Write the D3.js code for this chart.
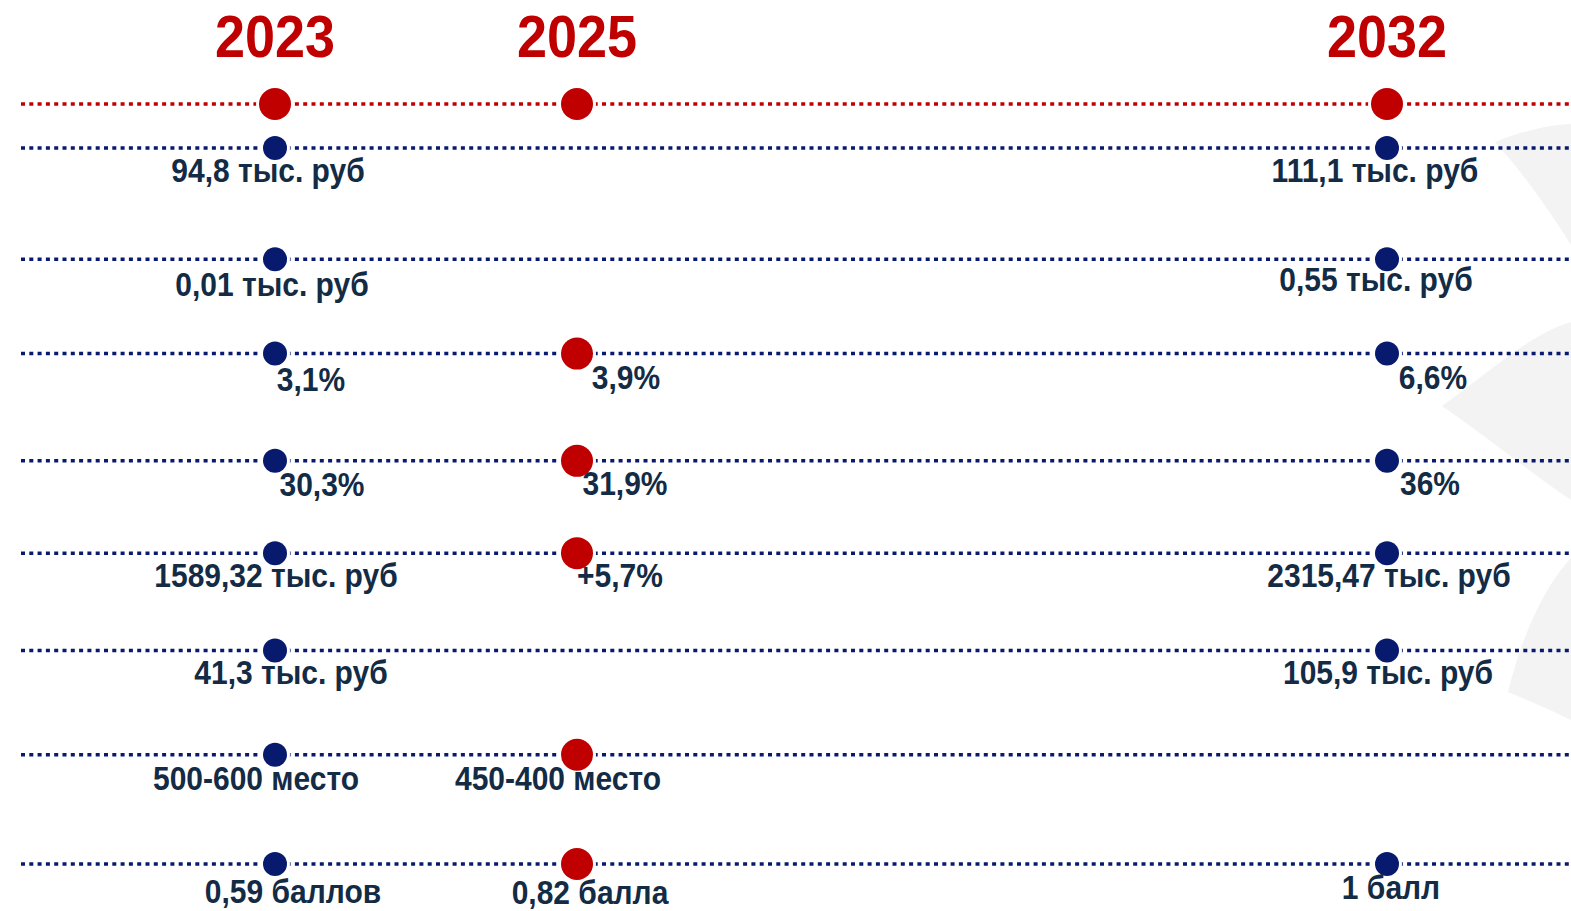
<!DOCTYPE html>
<html>
<head>
<meta charset="utf-8">
<script src="https://cdn.jsdelivr.net/npm/d3@7"></script>
<style>
  html, body { margin: 0; padding: 0; background: #fff; }
  svg { display: block; }
</style>
</head>
<body>
<svg id="chart" width="1571" height="911"></svg>
<script>
"use strict";

/* ── Data ─────────────────────────────────────────────────────────── */

const YEARS = ["2023", "2025", "2032"];

/* One value per indicator row; null = no mark for that year. */
const VALUES_2023 = [
  "94,8 тыс. руб", "0,01 тыс. руб", "3,1%", "30,3%",
  "1589,32 тыс. руб", "41,3 тыс. руб", "500-600 место", "0,59 баллов"
];
const VALUES_2025 = [
  null, null, "3,9%", "31,9%",
  "+5,7%", null, "450-400 место", "0,82 балла"
];
const VALUES_2032 = [
  "111,1 тыс. руб", "0,55 тыс. руб", "6,6%", "36%",
  "2315,47 тыс. руб", "105,9 тыс. руб", null, "1 балл"
];

/* ── Layout tweaks (label nudges as placed on the original slide) ── */

const ROW_NUDGE = [0, 9, 1, 6, -4, -9, -7, 0];
const LABEL_DX = {
  "2023": [-7, -3, 36, 47, 1, 16, -19, 18],
  "2025": [0, 0, 49, 48, 43, 0, -19, 13],
  "2032": [-12, -11, 46, 43, 2, 1, 0, 4]
};
const LABEL_DY = {
  "2023": [34, 37, 37, 35, 34, 34, 35, 39],
  "2025": [0, 0, 35, 34, 34, 0, 35, 40],
  "2032": [34, 32, 35, 34, 34, 34, 0, 35]
};

const RED = "#c00000", NAVY = "#071a6e", INK = "#132b45";
const W = 1571;
const HEADER_Y = 104;
const STRETCH = 1.09;   // text on the slide is slightly tall

const svg = d3.select("#chart");

/* Scales: the year columns are not evenly spaced on the slide. */
const x = d3.scaleLinear().domain([2023, 2025, 2032]).range([275, 577, 1387]);
const rows = d3.range(VALUES_2023.length);
const yBase = d3.scalePoint().domain(rows).range([148, 864]);
const y = function (i) { return yBase(i) + ROW_NUDGE[i]; };

const byYear = { "2023": VALUES_2023, "2025": VALUES_2025, "2032": VALUES_2032 };

/* ── Background decoration (faint grey petals on the right) ───────── */

const deco = svg.append("g").attr("fill", "#f3f3f3");
deco.append("path").attr("d",
  "M1495,142 C1530,128 1560,124 1571,124 L1571,245 C1550,212 1525,175 1495,142 Z");
deco.append("path").attr("d",
  "M1442,406 C1490,372 1530,334 1571,322 L1571,500 C1530,472 1480,432 1442,406 Z");
deco.append("path").attr("d",
  "M1571,558 C1545,585 1522,635 1508,692 C1532,702 1555,712 1571,720 Z");

/* ── Year headers ─────────────────────────────────────────────────── */

svg.append("g").selectAll("text")
  .data(YEARS)
  .join("text")
  .attr("transform", function (d) { return "translate(" + x(+d) + ",57) scale(1," + STRETCH + ")"; })
  .attr("text-anchor", "middle")
  .attr("font-family", "Liberation Sans, Arial, sans-serif")
  .attr("font-weight", "bold")
  .attr("font-size", 54)
  .attr("fill", RED)
  .text(function (d) { return d; });

/* ── Dotted guide lines ───────────────────────────────────────────── */

svg.append("line")
  .attr("x1", 21).attr("x2", W)
  .attr("y1", HEADER_Y).attr("y2", HEADER_Y)
  .attr("stroke", RED).attr("stroke-width", 3.5)
  .attr("stroke-dasharray", "4 4.3");

svg.append("g").selectAll("line")
  .data(rows)
  .join("line")
  .attr("x1", 21).attr("x2", W)
  .attr("y1", y).attr("y2", y)
  .attr("stroke", NAVY).attr("stroke-width", 3.5)
  .attr("stroke-dasharray", "4 4.3");

/* ── Dots ─────────────────────────────────────────────────────────── */

function dot(g, cx, cy, r, color) {
  g.append("circle").attr("cx", cx).attr("cy", cy).attr("r", r + 3).attr("fill", "#fff");
  g.append("circle").attr("cx", cx).attr("cy", cy).attr("r", r).attr("fill", color);
}

const dots = svg.append("g");
YEARS.forEach(function (yr) { dot(dots, x(+yr), HEADER_Y, 16, RED); });

const cells = [];
YEARS.forEach(function (yr) {
  byYear[yr].forEach(function (v, i) {
    if (v !== null) cells.push({ year: yr, row: i, value: v });
  });
});

cells.forEach(function (c) {
  const big = c.year === "2025";
  dot(dots, x(+c.year), y(c.row), big ? 16 : 12, big ? RED : NAVY);
});

/* ── Value labels ─────────────────────────────────────────────────── */

svg.append("g").selectAll("text")
  .data(cells)
  .join("text")
  .attr("transform", function (c) {
    const tx = x(+c.year) + LABEL_DX[c.year][c.row];
    const ty = y(c.row) + LABEL_DY[c.year][c.row];
    return "translate(" + tx + "," + ty + ") scale(1," + STRETCH + ")";
  })
  .attr("text-anchor", "middle")
  .attr("font-family", "Liberation Sans, Arial, sans-serif")
  .attr("font-weight", "bold")
  .attr("font-size", 30)
  .attr("fill", INK)
  .text(function (c) { return c.value; });
</script>
</body>
</html>
